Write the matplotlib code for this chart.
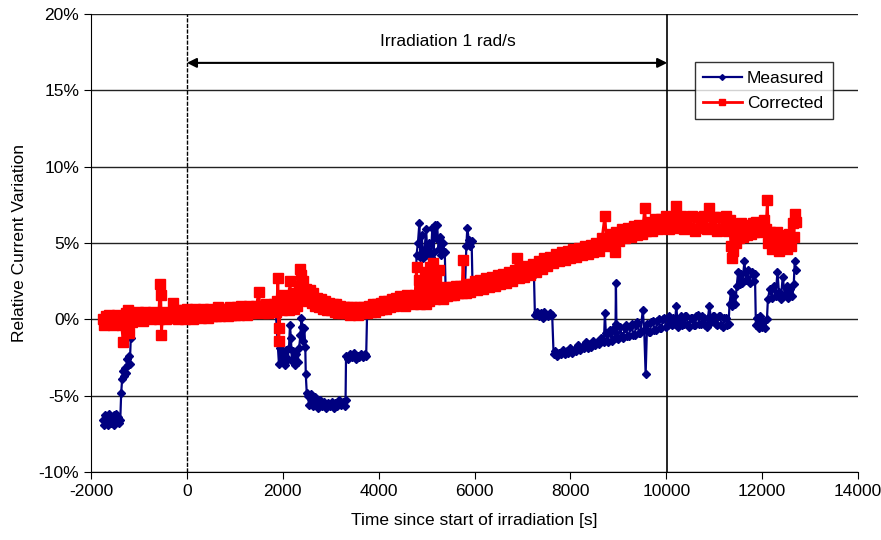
import matplotlib
matplotlib.use("Agg")
import matplotlib.pyplot as plt
from matplotlib.ticker import FuncFormatter

plt.rcParams["font.family"] = ["Liberation Sans", "DejaVu Sans"]
plt.rcParams["axes.unicode_minus"] = False

# Measured relative current variation (%) vs time (s)
meas_t = [-1750, -1730, -1710, -1690, -1670, -1650, -1630, -1610, -1590, -1570,
          -1550, -1530, -1510, -1490, -1470, -1450, -1430, -1410, -1390,
          -1370, -1350, -1330, -1310, -1290, -1270, -1250, -1230, -1210, -1190, -1170,
          -1100, -800, -400, 0, 400, 800, 1200, 1600, 1850,
          1920, 1950, 1980, 2010, 2040, 2070, 2100, 2130, 2150, 2170, 2190, 2220,
          2250, 2280, 2310, 2340, 2370, 2390, 2410, 2430, 2450, 2470, 2480, 2500,
          2520, 2550, 2580, 2610, 2640, 2670, 2700, 2740, 2780, 2820, 2860, 2900,
          2940, 2980, 3020, 3060, 3100, 3140, 3180, 3220, 3260, 3290,
          3310, 3320, 3360, 3400, 3440, 3480, 3520, 3560, 3600, 3640, 3680, 3720, 3740,
          3760, 3900, 4200, 4500, 4700,
          4780, 4790, 4820, 4850, 4870, 4900, 4930, 4960, 4990, 5020, 5050, 5070,
          5090, 5120, 5150, 5170, 5200, 5220, 5250, 5280, 5310, 5340, 5380, 5400,
          5450, 5800, 5830, 5850, 5880, 5910, 5940, 5960,
          6200, 6600, 7000, 7240,
          7260, 7300, 7340, 7380, 7420, 7460, 7500, 7540, 7580, 7620, 7650,
          7680, 7720, 7760, 7800, 7840, 7880, 7920, 7960, 8000, 8040, 8080, 8120,
          8160, 8200, 8240, 8280, 8320, 8360, 8400, 8440, 8480, 8520, 8560, 8600,
          8640, 8700, 8720, 8740, 8780, 8820, 8860, 8900, 8940, 8950, 8960, 8990,
          9040, 9070, 9100, 9130, 9160, 9190, 9220, 9250, 9280, 9310, 9340, 9370,
          9400, 9430, 9460, 9510, 9540, 9570, 9600, 9630,
          9660, 9690, 9720, 9750, 9780, 9810, 9840, 9870, 9900, 9930, 9960, 10000,
          10030, 10060, 10090, 10120, 10150, 10180, 10210, 10240, 10270, 10300,
          10330, 10360, 10390, 10420, 10450, 10480, 10510, 10540, 10570,
          10600, 10630, 10660, 10690, 10720, 10750, 10780, 10810, 10840, 10870,
          10900, 10940, 10970, 11000, 11030, 11060, 11090, 11120, 11150,
          11180, 11210, 11240, 11270, 11300,
          11320, 11350, 11380, 11410, 11440, 11470, 11500, 11530, 11560, 11590,
          11630, 11660, 11700, 11740, 11780, 11820, 11850, 11870, 11900, 11930,
          11960, 11990, 12020, 12060, 12100, 12120, 12160, 12200, 12240, 12280,
          12320, 12350, 12390, 12430, 12470, 12510, 12550, 12590, 12630, 12660,
          12680, 12700]
meas_v = [-6.6, -6.9, -6.3, -6.7, -6.5, -6.9, -6.2, -6.6, -6.8, -6.4,
          -6.7, -6.3, -6.9, -6.5, -6.2, -6.7, -6.4, -6.8, -6.6,
          -4.8, -3.9, -3.4, -3.7, -3.2, -3.5, -2.6, -3.0, -2.4, -2.9, -1.2,
          0.1, 0.2, 0.3, 0.3, 0.4, 0.5, 0.6, 0.7, 0.7,
          -2.9, -1.9, -2.8, -2.2, -3.0, -2.0, -2.6, -1.9, -0.4, -1.2, -2.7, -2.1,
          -3.0, -2.3, -2.8, -1.9, -1.0, 0.1, -0.5, -1.4, -0.6, -1.8, -3.6, -4.8,
          -5.0, -5.6, -4.9, -5.4, -5.7, -5.1, -5.5, -5.8, -5.3, -5.7, -5.4, -5.8,
          -5.5, -5.7, -5.4, -5.8, -5.5, -5.7, -5.3, -5.6, -5.4, -5.7,
          -5.3, -2.4, -2.6, -2.3, -2.5, -2.2, -2.6, -2.4, -2.5, -2.3, -2.5, -2.3, -2.4,
          0.5, 0.6, 0.9, 1.1, 1.3,
          1.3, 4.2, 5.0, 6.3, 4.1, 5.5, 4.0, 4.6, 5.9, 4.2, 5.0, 1.8,
          4.1, 6.0, 4.4, 6.2, 5.3, 6.2, 4.6, 5.4, 4.2, 5.0, 4.4, 1.6,
          1.7, 1.9, 4.8, 6.0, 5.2, 4.8, 5.1, 2.0,
          2.2, 2.5, 2.8, 2.9,
          0.3, 0.5, 0.2, 0.4, 0.1, 0.5, 0.3, 0.2, 0.4, 0.3, -2.3,
          -2.1, -2.4, -2.2, -2.3, -2.0, -2.3, -2.1, -2.2, -1.9, -2.2, -2.0, -2.1,
          -1.7, -2.0, -1.8, -1.9, -1.5, -1.9, -1.6, -1.8, -1.4, -1.7, -1.5, -1.6,
          -1.2, -1.5, 0.4, -0.9, -1.5, -0.7, -1.4, -0.6, -1.2, 2.4, -0.3, -1.3,
          -0.5, -1.1, -1.2, -0.6, -0.4, -1.1, -1.1, -0.5, -0.3, -1.0, -1.0, -0.4,
          -0.2, -0.9, -0.9, 0.6, -0.7, -3.6, -0.3, -0.8,
          -0.8, -0.2, -0.1, -0.7, -0.7, -0.1, 0.0, -0.6, -0.6, 0.0, 0.1, -0.5,
          -0.4, 0.2, -0.1, -0.4, 0.1, -0.3, 0.9, -0.5, 0.0, 0.2,
          -0.4, -0.3, 0.2, 0.2, -0.4, -0.5, 0.1, 0.1, -0.4,
          -0.4, 0.2, 0.3, -0.3, -0.3, 0.2, 0.1, -0.4, -0.5, 0.1,
          0.9, -0.2, 0.2, 0.2, -0.3, -0.4, 0.2, 0.2, -0.4,
          -0.5, 0.1, 0.1, -0.4, -0.3,
          1.0, 1.8, 0.9, 1.5, 1.0, 2.2, 3.1, 2.3, 3.0, 2.4,
          3.8, 2.6, 3.2, 2.4, 3.1, 2.5, 3.0, -0.4, 0.1, -0.6,
          0.2, -0.5, -0.1, -0.6, 0.0, 1.3, 2.0, 1.4, 2.2, 1.5,
          3.1, 1.8, 1.3, 2.8, 1.6, 2.2, 1.4, 2.0, 1.5, 2.3,
          3.8, 3.2]

# Corrected relative current variation (%) vs time (s)
corr_t = [-1750, -1720, -1690, -1660, -1630, -1600, -1570, -1540, -1510, -1480,
          -1450, -1420, -1390, -1360, -1330, -1310, -1280, -1250, -1220, -1200, -1180,
          -1150, -1110, -1070, -1030, -990, -950, -910, -870, -830, -790,
          -750, -710, -670, -630, -590, -560, -545, -530, -510, -470,
          -430, -390, -350, -300, -270, -230, -190, -150, -110, -70, -30,
          10, 50, 90, 130, 170, 210, 250, 290, 330, 370,
          410, 450, 490, 530, 570, 610, 650, 690, 730, 770,
          810, 850, 890, 930, 970, 1010, 1050, 1090, 1130, 1170,
          1210, 1250, 1290, 1330, 1370, 1410, 1450, 1500, 1530, 1570,
          1610, 1650, 1690, 1730, 1770, 1810, 1850, 1880, 1900, 1915,
          1930, 1950, 1990, 2030, 2060, 2090, 2120, 2150, 2180, 2210,
          2240, 2270, 2300, 2330, 2360, 2380, 2400, 2430, 2460, 2490,
          2520, 2560, 2600, 2640, 2680,
          2720, 2760, 2800, 2840, 2880, 2920, 2960, 3000, 3040, 3080,
          3120, 3160, 3200, 3240, 3280, 3320, 3360, 3400, 3440, 3480,
          3520, 3560, 3600, 3640, 3680, 3720, 3760, 3800, 3840, 3880,
          3920, 3960, 4000, 4040, 4080, 4120, 4160, 4200, 4240, 4280,
          4320, 4360, 4400, 4440, 4480, 4520, 4560, 4600, 4640, 4680,
          4720, 4760,
          4790, 4810, 4840, 4870, 4900, 4930, 4960, 4990, 5020, 5050,
          5080, 5110, 5140, 5170, 5200, 5230, 5260, 5290, 5320, 5350,
          5380, 5420, 5460, 5500, 5540, 5580, 5620, 5660, 5700, 5740,
          5760, 5780, 5820, 5860, 5900, 5940,
          6000, 6060, 6120, 6180, 6240, 6300, 6360, 6420, 6480, 6540,
          6600, 6660, 6720, 6780, 6840, 6880, 6920, 6980, 7040, 7100,
          7160, 7220, 7280, 7340, 7400, 7460, 7520, 7580, 7640, 7700,
          7760, 7820, 7880, 7940, 8000, 8060, 8120, 8180, 8240, 8300,
          8360, 8420, 8480, 8540, 8600, 8660, 8720, 8760, 8820, 8880,
          8930, 8960, 9020, 9080, 9140, 9200, 9260, 9320, 9380, 9440,
          9500, 9550, 9580, 9640, 9700, 9760, 9820, 9880, 9940,
          10000, 10060, 10120, 10180, 10210, 10240, 10300, 10360, 10420, 10480,
          10540, 10600, 10660, 10720, 10780, 10840, 10900, 10940, 11000, 11060,
          11120, 11180, 11240, 11290, 11320,
          11350, 11370, 11400, 11430, 11460, 11490, 11520, 11560, 11600, 11640,
          11680, 11720, 11760, 11800, 11840, 11880, 11920, 11960, 12000, 12040,
          12080, 12110, 12130, 12160, 12200, 12240, 12280, 12320, 12360, 12400,
          12440, 12480, 12520, 12560, 12600, 12640, 12660, 12690, 12710]
corr_v = [0.0, -0.4, 0.2, -0.2, 0.3, -0.3, 0.1, -0.4, 0.2, -0.1,
          0.3, -0.3, 0.1, -0.4, -1.5, 0.0, 0.4, -0.3, 0.6, -0.9, 0.2,
          -0.2, 0.4, 0.0, 0.5, 0.1, 0.4, -0.1, 0.5, 0.1, 0.4,
          0.0, 0.5, 0.1, 0.4, 0.0, 2.3, 1.6, -1.0, 0.2, 0.5,
          0.0, 0.4, 0.1, 1.1, 0.2, 0.6, 0.0, 0.5, 0.1, 0.6, 0.0,
          0.7, 0.1, 0.6, 0.0, 0.7, 0.2, 0.6, 0.1, 0.7, 0.2,
          0.6, 0.1, 0.7, 0.2, 0.6, 0.2, 0.8, 0.2, 0.7, 0.3,
          0.7, 0.2, 0.8, 0.3, 0.7, 0.3, 0.8, 0.3, 0.9, 0.4,
          0.8, 0.3, 0.9, 0.4, 0.8, 0.4, 0.9, 1.8, 0.5, 0.9,
          0.4, 1.0, 0.4, 0.9, 0.5, 1.0, 0.5, 1.2, 2.7, -1.4,
          -0.6, 1.0, 0.6, 1.6, 0.8, 1.3, 0.6, 2.5, 1.0, 1.7,
          0.7, 1.4, 0.9, 2.2, 3.3, 2.9, 1.6, 2.5, 1.3, 2.0,
          1.2, 1.9, 1.1, 1.7, 0.9,
          1.4, 0.8, 1.3, 0.7, 1.2, 0.6, 1.1, 0.6, 1.0, 0.5,
          1.0, 0.4, 0.9, 0.4, 0.8, 0.4, 0.8, 0.3, 0.8, 0.4,
          0.7, 0.3, 0.8, 0.4, 0.8, 0.5, 0.4, 0.9, 0.5, 1.0,
          0.5, 1.0, 0.6, 1.1, 0.7, 1.2, 0.7, 1.2, 0.8, 1.3,
          0.9, 1.4, 1.0, 1.5, 1.0, 1.4, 0.9, 1.6, 1.1, 1.5,
          1.0, 1.6,
          3.4, 1.2, 2.6, 1.0, 2.1, 1.3, 3.1, 1.0, 2.5, 1.2,
          3.4, 1.4, 3.7, 1.3, 2.8, 1.5, 3.2, 1.4, 1.9, 1.3,
          2.1, 1.5, 2.0, 1.6, 2.1, 1.6, 2.2, 1.7, 2.2, 1.7,
          3.9, 2.2, 1.7, 2.3, 1.8, 2.3,
          2.5, 1.9, 2.6, 2.0, 2.7, 2.1, 2.8, 2.2, 2.9, 2.3,
          3.0, 2.4, 3.1, 2.5, 3.2, 4.0, 2.7, 3.3, 2.8, 3.5,
          2.9, 3.6, 3.1, 3.8, 3.3, 4.0, 3.5, 4.1, 3.7, 4.3,
          3.8, 4.4, 3.9, 4.5, 4.0, 4.6, 4.1, 4.7, 4.2, 4.8,
          4.3, 4.9, 4.4, 5.0, 4.5, 5.3, 6.8, 4.8, 5.6, 5.0,
          4.4, 5.7, 5.1, 5.9, 5.3, 6.0, 5.4, 6.1, 5.5, 6.2,
          5.6, 7.3, 5.8, 6.4, 5.8, 6.6, 5.9, 6.6, 6.0,
          6.8, 5.9, 6.7, 6.0, 7.4, 6.1, 6.8, 5.9, 6.7, 6.0,
          6.8, 5.8, 6.7, 6.0, 6.8, 5.9, 7.3, 6.0, 6.7, 5.8,
          6.7, 5.9, 6.8, 5.8, 6.5,
          4.8, 4.0, 4.5, 5.6, 5.0, 6.0, 5.3, 6.3, 5.4, 6.1,
          5.5, 6.2, 5.6, 6.3, 5.7, 6.4, 5.8, 6.3, 5.7, 6.5,
          5.9, 7.8, 5.0, 5.7, 4.6, 5.4, 4.8, 5.7, 4.5, 5.5,
          4.7, 5.3, 4.6, 5.6, 4.8, 6.3, 5.4, 6.9, 6.4]

irr_start, irr_end = 0, 10020

fig = plt.figure(figsize=(8.81, 5.4), dpi=100)
ax = fig.add_axes([0.1033, 0.126, 0.8706, 0.848])

ax.plot(meas_t, meas_v, color="#000080", lw=1.6, marker="D", ms=4.2,
        label="Measured", zorder=3)
ax.plot(corr_t, corr_v, color="#FF0000", lw=2, marker="s", ms=6.5,
        label="Corrected", zorder=4)

ax.axvline(irr_start, color="black", lw=1, ls=(0, (3, 1)), zorder=2)
ax.axvline(irr_end, color="black", lw=1.2, zorder=2)
ax.annotate("", xy=(irr_start, 16.8), xytext=(irr_end, 16.8),
            arrowprops=dict(arrowstyle="<|-|>", color="black", lw=1.5,
                            shrinkA=0, shrinkB=0, mutation_scale=14))
ax.text(5450, 18.2, "Irradiation 1 rad/s", ha="center", va="center", fontsize=12.5)

ax.set_xlim(-2000, 14000)
ax.set_ylim(-10, 20)
ax.set_xticks(range(-2000, 14001, 2000))
ax.set_yticks(range(-10, 21, 5))
ax.yaxis.set_major_formatter(FuncFormatter(lambda v, p: f"{v:.0f}%"))
ax.grid(axis="y", color="#222222", lw=1)
ax.set_axisbelow(True)
for s in ["top", "right"]:
    ax.spines[s].set_visible(False)
ax.tick_params(labelsize=12.5, direction="out", length=5)
ax.set_xlabel("Time since start of irradiation [s]", fontsize=12.5, labelpad=10)
ax.set_ylabel("Relative Current Variation", fontsize=12.5, labelpad=8)

leg = ax.legend(loc="upper left", bbox_to_anchor=(0.787, 0.895), fontsize=12.5,
                frameon=True, fancybox=False, edgecolor="black",
                handlelength=2.2, handletextpad=0.3, borderpad=0.5,
                labelspacing=0.55, borderaxespad=0, markerscale=0.7)
leg.get_frame().set_linewidth(1)

fig.savefig("out.png", dpi=100)
